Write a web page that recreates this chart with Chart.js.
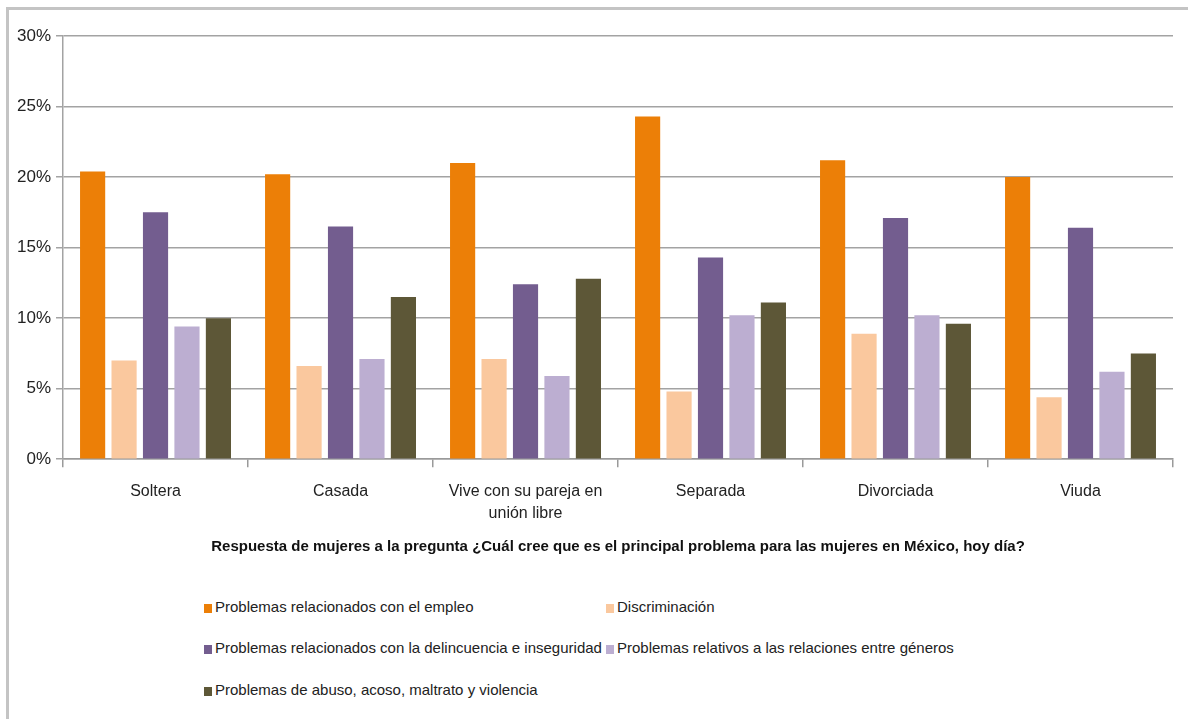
<!DOCTYPE html>
<html>
<head>
<meta charset="utf-8">
<script src="https://cdn.jsdelivr.net/npm/chart.js@4.4.1/dist/chart.umd.min.js"></script>
<style>
  html, body { margin: 0; padding: 0; background: #fff; }
  body { width: 1188px; height: 719px; position: relative; overflow: hidden; font-family: "Liberation Sans", Arial, sans-serif; }
  #frame { position: absolute; left: 6px; top: 7px; right: 0; bottom: 0; border-top: 3px solid #c4c4c4; border-left: 3px solid #c4c4c4; }
  #wrap { position: absolute; left: 0; top: 0; width: 1188px; height: 560px; }
  #legend { position: absolute; left: 0; top: 598px; width: 1188px; }
  .item { position: absolute; font-size: 15px; color: #222; white-space: nowrap; }
  .box { display: inline-block; width: 8px; height: 9px; margin-right: 3px; vertical-align: -1px; }
</style>
</head>
<body>
<div id="frame"></div>
<div id="wrap"><canvas id="chart"></canvas></div>
<div id="legend"></div>
<script>
// categories (estado civil)
const categories = ['Soltera', 'Casada', ['Vive con su pareja en', 'unión libre'], 'Separada', 'Divorciada', 'Viuda'];

// series names
const seriesNames = [
    'Problemas relacionados con el empleo',
    'Discriminación',
    'Problemas relacionados con la delincuencia e inseguridad',
    'Problemas relativos a las relaciones entre géneros',
    'Problemas de abuso, acoso, maltrato y violencia'
];

// values in percent
const empleo       = [20.4, 20.2, 21.0, 24.3, 21.2, 20.0];
const discriminacion = [7.0, 6.6, 7.1, 4.8, 8.9, 4.4];
const delincuencia = [17.5, 16.5, 12.4, 14.3, 17.1, 16.4];
const relaciones   = [9.4, 7.1, 5.9, 10.2, 10.2, 6.2];
const abuso        = [10.0, 11.5, 12.8, 11.1, 9.6, 7.5];

const colors = ['#EC7F07', '#FAC89E', '#735D8F', '#BCAED1', '#5D5737'];

const yTicks = [0, 5, 10, 15, 20, 25, 30];

const axisTitle = 'Respuesta de mujeres a la pregunta ¿Cuál cree que es el principal problema para las mujeres en México, hoy día?';

const allSeries = [empleo, discriminacion, delincuencia, relaciones, abuso];

const ctx = document.getElementById('chart').getContext('2d');
const chart = new Chart(ctx, {
    type: 'bar',
    data: {
        labels: categories,
        datasets: allSeries.map(function(values, i) {
            return {
                label: seriesNames[i],
                data: values,
                backgroundColor: colors[i],
                categoryPercentage: 0.85,
                barPercentage: 0.8
            };
        })
    },
    options: {
        responsive: true,
        maintainAspectRatio: false,
        animation: false,
        layout: { padding: { left: 12, right: 15, top: 36, bottom: 4 } },
        plugins: {
            legend: { display: false },
            tooltip: { enabled: false }
        },
        scales: {
            x: {
                grid: { drawOnChartArea: false, drawTicks: true, tickLength: 8, color: '#9a9a9a', lineWidth: 1.5 },
                border: { color: '#9a9a9a', width: 1.5 },
                ticks: { color: '#222', font: { family: 'Liberation Sans', size: 16, lineHeight: 1.4 }, padding: 13, maxRotation: 0 },
                title: {
                    display: true,
                    text: axisTitle,
                    color: '#111',
                    font: { family: 'Liberation Sans', size: 15, weight: 'bold' },
                    padding: { top: 0, bottom: 0 }
                }
            },
            y: {
                min: 0,
                max: 30,
                afterBuildTicks: function(axis) {
                    axis.ticks = yTicks.map(function(v) { return { value: v }; });
                },
                grid: { color: '#a3a3a3', lineWidth: 1.5, tickLength: 7 },
                border: { color: '#a3a3a3', width: 1.5 },
                ticks: {
                    color: '#222',
                    font: { family: 'Liberation Sans', size: 17 },
                    padding: 5,
                    callback: function(v) { return v + '%'; }
                }
            }
        }
    }
});

// legend in two columns, like the original
const legendPos = [[204, 0], [606, 0], [204, 41], [606, 41], [204, 83]];
const legend = document.getElementById('legend');
seriesNames.forEach(function(name, i) {
    const item = document.createElement('div');
    item.className = 'item';
    item.style.left = legendPos[i][0] + 'px';
    item.style.top = legendPos[i][1] + 'px';
    item.innerHTML = '<span class="box" style="background:' + colors[i] + '"></span>' + name;
    legend.appendChild(item);
});
</script>
</body>
</html>
